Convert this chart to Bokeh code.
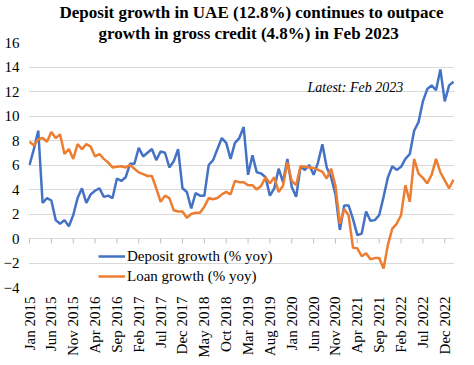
import numpy as np
from bokeh.plotting import figure
from bokeh.models import Range1d, FixedTicker, Legend, LegendItem, Label, ColumnDataSource, Title
from bokeh.embed import file_html
from bokeh.resources import INLINE

# ---- data (Jan 2015 .. Feb 2023, monthly, % yoy) ----
deposit = [
    6.0, 7.3, 8.8, 2.9, 3.3, 3.1, 1.5, 1.2, 1.5, 1.0, 1.9, 3.3,      # 2015
    4.1, 2.9, 3.6, 3.9, 4.1, 3.4, 3.5, 3.3, 4.9, 4.7, 5.0, 6.1,      # 2016
    6.1, 7.4, 6.7, 7.0, 7.3, 6.4, 7.1, 7.0, 5.8, 6.3, 7.3, 4.1,      # 2017
    3.8, 2.45, 3.7, 3.5, 3.5, 6.0, 6.4, 7.3, 8.2, 7.8, 6.5, 7.8,     # 2018
    8.2, 9.1, 5.2, 6.8, 5.4, 5.3, 5.0, 3.5, 4.1, 5.7, 4.6, 6.5,      # 2019
    4.2, 3.4, 5.85, 5.6, 6.0, 5.2, 6.2, 7.7, 5.8, 5.0, 3.6, 0.7,     # 2020
    2.7, 2.7, 1.6, 0.27, 0.4, 2.2, 1.45, 1.5, 1.9, 3.4, 5.0, 5.9,    # 2021
    5.6, 5.85, 6.5, 6.9, 8.8, 9.5, 11.2, 12.2, 12.5, 12.1, 13.8, 11.2,  # 2022
    12.5, 12.8,                                                      # 2023
]
loan = [
    7.9, 7.6, 8.1, 8.2, 7.9, 8.7, 8.2, 8.5, 6.9, 7.3, 6.5, 7.7,      # 2015
    7.3, 7.7, 7.5, 6.7, 6.9, 6.5, 6.2, 5.8, 5.85, 5.9, 5.8, 6.0,     # 2016
    5.7, 5.4, 5.25, 5.1, 5.1, 4.1, 3.0, 3.5, 3.3, 2.3, 2.2, 2.2,     # 2017
    1.7, 2.0, 2.1, 2.1, 2.6, 3.3, 3.2, 3.3, 3.6, 3.8, 3.6, 4.7,      # 2018
    4.6, 4.6, 4.35, 4.35, 4.0, 4.3, 5.0, 4.5, 5.0, 3.8, 4.3, 6.2,    # 2019
    4.7, 4.35, 5.9, 5.85, 5.8, 5.75, 5.6, 5.45, 4.9, 5.7, 4.3, 1.2,  # 2020
    2.4, 1.9, -0.75, -0.8, -1.45, -1.2, -1.7, -1.6, -1.6, -2.45, -0.5, 0.8,  # 2021
    1.2, 1.9, 4.35, 3.0, 6.5, 5.3, 4.95, 4.5, 5.2, 6.5, 5.4, 4.75,   # 2022
    4.1, 4.8,                                                        # 2023
]
tick_labels = ["Jan 2015", "Jun 2015", "Nov 2015", "Apr 2016", "Sep 2016",
               "Feb 2017", "Jul 2017", "Dec 2017", "May 2018", "Oct 2018",
               "Mar 2019", "Aug 2019", "Jan 2020", "Jun 2020", "Nov 2020",
               "Apr 2021", "Sep 2021", "Feb 2022", "Jul 2022", "Dec 2022"]
tick_step = 5
y_ticks = [-4, -2, 0, 2, 4, 6, 8, 10, 12, 14, 16]
title_lines = ["Deposit growth in UAE (12.8%) continues to outpace",
               "growth in gross credit (4.8%) in Feb 2023"]

FONT = "Liberation Serif"
BLUE = "#4472C4"
ORANGE = "#ED7D31"

x = list(range(len(deposit)))
tick_pos = [i * tick_step for i in range(len(tick_labels))]

src = ColumnDataSource(data=dict(x=x, deposit=deposit, loan=loan))

p = figure(frame_width=426, frame_height=245,
           x_range=Range1d(-0.23, len(deposit) - 1 + 0.23),
           y_range=Range1d(y_ticks[0], y_ticks[-1]),
           output_backend="svg", toolbar_location=None,
           min_border_left=24, min_border_right=8,
           min_border_top=0, min_border_bottom=0)
p.outline_line_color = None
p.background_fill_color = "white"
p.border_fill_color = "white"

# two title lines; the line added later sits nearer the plot
p.title.text = title_lines[0]
p.title.offset = 31
p.add_layout(Title(text=title_lines[1], offset=70), "above")
for t in p.select(type=Title):
    t.align = "left"
    t.text_font = FONT
    t.text_font_size = "17px"
    t.text_font_style = "bold"
    t.text_color = "black"
    t.standoff = 0
    t.text_line_height = 1.1

p.xgrid.visible = False
p.ygrid.grid_line_color = "#d9d9d9"
p.ygrid.grid_line_width = 1

for ax in (p.xaxis[0], p.yaxis[0]):
    ax.axis_line_color = None
    ax.major_tick_line_color = None
    ax.minor_tick_line_color = None
    ax.major_tick_out = 0
    ax.major_tick_in = 0
    ax.minor_tick_out = 0
    ax.major_label_standoff = 9
    ax.major_label_text_font = FONT
    ax.major_label_text_font_size = "15px"
    ax.major_label_text_color = "black"

p.yaxis.ticker = FixedTicker(ticks=y_ticks)
p.xaxis.ticker = FixedTicker(ticks=tick_pos)
p.xaxis.major_label_overrides = {pos: lab for pos, lab in zip(tick_pos, tick_labels)}
p.xaxis.major_label_orientation = np.pi / 2

# small category tick marks hanging from the zero line
p.segment(x0=tick_pos, y0=[0] * len(tick_pos), x1=tick_pos, y1=[-0.4] * len(tick_pos),
          line_color="#bfbfbf", line_width=1)

r1 = p.line("x", "deposit", source=src, line_color=BLUE, line_width=2.5)
r2 = p.line("x", "loan", source=src, line_color=ORANGE, line_width=2.5)

legend = Legend(items=[LegendItem(label="Deposit growth (% yoy)", renderers=[r1]),
                       LegendItem(label="Loan growth (% yoy)", renderers=[r2])],
                location=(70, 1), glyph_width=27, glyph_height=20,
                label_standoff=2, spacing=0, padding=0, margin=0,
                label_height=20,
                background_fill_alpha=0, border_line_color=None,
                label_text_font=FONT, label_text_font_size="15px",
                label_text_color="black")
p.add_layout(legend)

p.add_layout(Label(x=63.6, y=12.3, text="Latest: Feb 2023", text_font=FONT,
                   text_font_style="italic", text_font_size="14px",
                   text_baseline="middle", text_color="black"))

open("out.html", "w").write(file_html(p, INLINE))
